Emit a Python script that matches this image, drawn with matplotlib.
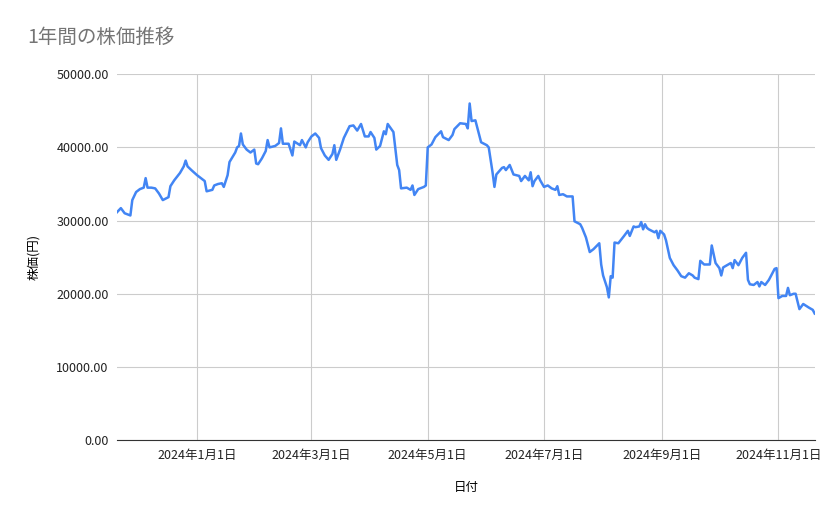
import matplotlib
matplotlib.use("Agg")
import matplotlib.pyplot as plt
import datetime as dt

plt.rcParams['font.family'] = ['Noto Sans CJK JP', 'DejaVu Sans']

start_date = dt.date(2023, 11, 20)
day_offsets = [0,2,4,7,8,10,12,14,15,16,18,20,22,24,27,28,30,33,35,36,37,39,
42,46,47,50,51,53,55,56,58,59,62,63,64,65,66,68,70,72,73,74,76,78,79,80,83,85,86,87,90,92,93,96,97,99,100,102,104,106,107,109,111,113,114,115,117,119,
122,124,126,128,130,132,133,135,136,138,140,141,142,145,147,148,149,152,154,155,156,158,161,162,163,165,167,170,171,174,176,177,180,183,184,185,186,188,191,194,195,197,198,199,
202,203,204,206,208,211,212,214,216,217,218,219,221,222,224,226,228,230,231,232,234,236,239,240,243,244,246,248,250,253,254,255,257,258,259,260,261,263,266,268,269,271,272,274,275,276,277,278,279,
282,283,284,285,287,288,290,292,294,296,298,300,302,303,305,306,308,311,312,314,316,317,318,320,322,323,324,326,328,330,331,332,334,336,337,338,340,342,343,345,346,347,349,351,352,353,355,356,358,
360,363,365,366]
prices = [31150,31700,31000,30700,32800,33900,34300,34500,35800,34500,34500,34400,33700,32800,33200,34700,35500,36500,37400,38200,37400,36900,36200,35400,34000,34200,34800,35000,35100,34600,36200,38000,39300,40000,40200,41900,40400,39700,39300,39700,37800,37700,38500,39500,41000,40000,40200,40600,42600,40500,40500,38900,40800,40300,41000,40000,40700,41500,41900,41300,39900,38900,38300,39100,40300,38300,39700,41300,42900,43000,42300,43200,41500,41500,42100,41300,39700,40200,42200,41800,43200,42100,37600,36900,34400,34500,34200,34800,33500,34300,34600,34800,40000,40400,41400,42200,41400,41000,41700,42500,43300,43200,42600,46000,43600,43700,40700,40300,40000,36600,34600,36300,37200,37300,36900,37600,36300,36100,35400,36100,35500,36600,34700,35400,36100,35500,34600,34800,34400,34200,34700,33500,33600,33300,33300,29900,29500,29000,27700,25700,26100,26900,24000,22500,20900,19500,22400,22200,27000,26900,27900,28600,27900,29200,29100,29200,29800,28800,29500,29000,28800,28400,28600,27600,28600,28100,27300,24900,23900,23200,22400,22200,22800,22500,22200,22000,24500,24000,24000,26600,24200,23500,22500,23600,23900,24200,23500,24600,23900,24900,25600,21900,21300,21200,21600,21000,21600,21200,21900,22400,23400,23500,19400,19700,19700,20800,19800,20000,20000,17900,18600,18100,17800,17300]
tick_dates = [dt.date(2024,1,1), dt.date(2024,3,1), dt.date(2024,5,1), dt.date(2024,7,1), dt.date(2024,9,1), dt.date(2024,11,1)]
tick_labels = ["2024年1月1日","2024年3月1日","2024年5月1日","2024年7月1日","2024年9月1日","2024年11月1日"]
y_ticks = [0,10000,20000,30000,40000,50000]

dates = [start_date + dt.timedelta(days=d) for d in day_offsets]

fig = plt.figure(figsize=(8.39,5.19), dpi=100)
ax = fig.add_axes([0.1395, 0.152, 0.8315, 0.705])
ax.plot(dates, prices, color='#4285F4', lw=1.8)
ax.set_xlim(dates[0], dates[-1])
ax.set_ylim(0, 50000)
ax.set_yticks(y_ticks)
ax.set_yticklabels([f"{v:.2f}" for v in y_ticks])
ax.set_xticks(tick_dates)
ax.set_xticklabels(tick_labels)
ax.grid(True, color='#cccccc', lw=0.8)
ax.set_axisbelow(True)
for s in ['top','right','left']:
    ax.spines[s].set_visible(False)
ax.spines['bottom'].set_color('#333333')
ax.tick_params(length=0, labelsize=9, colors='#222222', pad=6)
ax.set_xlabel("日付", fontsize=9, labelpad=14)
ax.set_ylabel("株価(円)", fontsize=9, labelpad=12)
fig.text(0.033, 0.927, "1年間の株価推移", fontsize=14, color='#757575', va='center')
fig.savefig("out.png", dpi=100)
